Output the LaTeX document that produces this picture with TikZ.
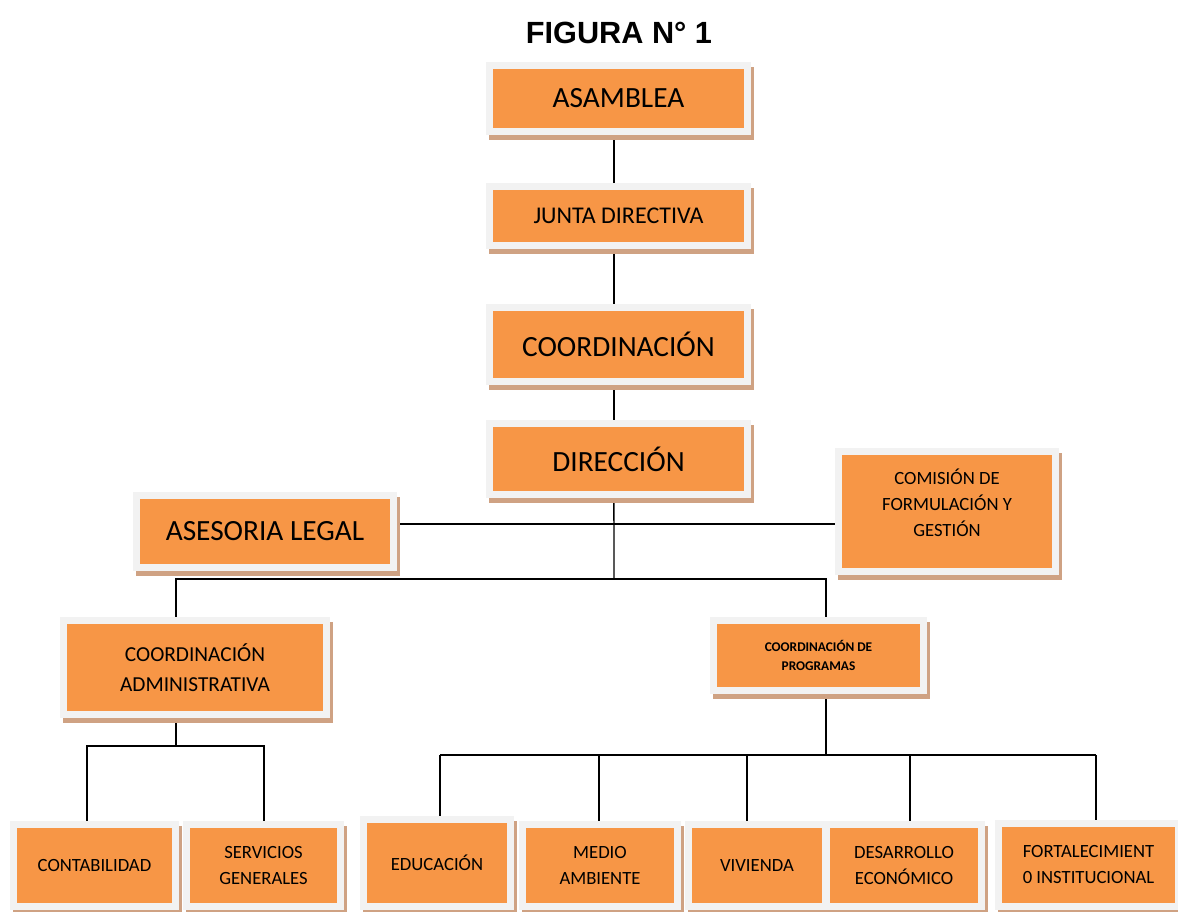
\documentclass[tikz,border=0pt]{standalone}
\usepackage{fontspec}
\setmainfont{Carlito}
\newfontfamily\titlefont{Liberation Sans}
\usetikzlibrary{backgrounds}

\definecolor{boxorange}{HTML}{F79646}
\definecolor{framegray}{HTML}{F2F2F2}
\definecolor{shadowtan}{HTML}{CFA283}

\begin{document}
\begin{tikzpicture}[
    x=0.75pt, y=-0.75pt,
    box/.style={rectangle, fill=boxorange, draw=framegray, line width=5.25pt,
                inner sep=1pt, align=center, text=black,
                preaction={fill=shadowtan, draw=shadowtan, line width=5.25pt,
                           transform canvas={xshift=2.25pt, yshift=-3.75pt}}},
    wh/.style 2 args={minimum width=#1*0.75pt, minimum height=#2*0.75pt},
    big/.style={font=\fontsize{22}{26}\selectfont},
    mid/.style={font=\fontsize{18}{22}\selectfont},
    small/.style={font=\fontsize{14}{19.5}\selectfont},
    link/.style={draw=black, line width=1.1pt}
]
\path[use as bounding box, clip] (0,0) rectangle (1178,912);

\node[font=\titlefont\bfseries\fontsize{23}{27}\selectfont] (title) at (619,33) {FIGURA N° 1};

% main chain
\node[box, big, wh={258}{66}] (asamblea) at (618.5,98.5) {ASAMBLEA};
\node[box, mid, wh={258}{59}] (junta) at (618.5,216) {JUNTA DIRECTIVA};
\node[box, big, wh={258}{74}] (coord) at (618.5,344.5) {COORDINACIÓN};
\node[box, big, wh={258}{71}] (direccion) at (618.5,459) {DIRECCIÓN};
\node[box, big, wh={257}{72}] (asesoria) at (265,531.5) {ASESORIA LEGAL};
\node[box, small, wh={217}{120}] (comision) at (947,511.5) {COMISIÓN DE\\FORMULACIÓN Y\\GESTIÓN\\[-6pt]\mbox{}};

% second level
\node[box, font=\fontsize{16}{22.5}\selectfont, wh={263}{94}] (coordadm) at (195,667.5) {COORDINACIÓN\\ADMINISTRATIVA};
\node[box, font=\bfseries\fontsize{10}{14}\selectfont, wh={210}{70}] (coordprog) at (818.5,655.5) {COORDINACIÓN DE\\PROGRAMAS};

% bottom row
\node[box, small, wh={162}{82}] (contab) at (94.5,865.5) {CONTABILIDAD};
\node[box, small, wh={154}{82}] (servicios) at (263.5,865.5) {SERVICIOS\\GENERALES};
\node[box, small, wh={147}{87}] (educacion) at (437,863) {EDUCACIÓN};
\node[box, small, wh={155}{82}] (medio) at (600,865.5) {MEDIO\\AMBIENTE};
\node[box, small, wh={137}{82}] (vivienda) at (757,865.5) {VIVIENDA};
\node[box, small, wh={155}{82}] (desarrollo) at (904,865.5) {DESARROLLO\\ECONÓMICO};
\node[box, small, wh={180}{83}] (fortalec) at (1088.5,865) {FORTALECIMIENT\\0 INSTITUCIONAL};

\begin{scope}[on background layer]
\draw[link] ([xshift=-3.4pt]asamblea.south) -- ([xshift=-3.4pt]junta.north);
\draw[link] ([xshift=-3.4pt]junta.south) -- ([xshift=-3.4pt]coord.north);
\draw[link] ([xshift=-3.4pt]coord.south) -- ([xshift=-3.4pt]direccion.north);
\coordinate (legal) at (614,524);
\draw[link] (asesoria.east |- legal) -- (comision.west |- legal);
\coordinate (busL) at (176,579);
\coordinate (busM) at (614,579);
\coordinate (busR) at (826,579);
\draw[link] ([xshift=-3.4pt]direccion.south) -- (busM);
\draw[link] (coordadm.north -| busL) -- (busL) -- (busR) -- (coordprog.north -| busR);
\coordinate (admL) at (87,746);
\coordinate (admM) at (176,746);
\coordinate (admR) at (264,746);
\draw[link] (coordadm.south -| admM) -- (admM);
\draw[link] (contab.north -| admL) -- (admL) -- (admR) -- (servicios.north -| admR);
\coordinate (progM) at (826,755);
\draw[link] (coordprog.south -| progM) -- (progM);
\foreach \b/\x in {educacion/440, medio/599, vivienda/747, desarrollo/910, fortalec/1096}
    \coordinate (t\b) at (\x,755);
\draw[link] (teducacion) -- (tfortalec);
\foreach \b in {educacion, medio, vivienda, desarrollo, fortalec}
    \draw[link] (t\b) -- (\b.north -| t\b);
\end{scope}
\end{tikzpicture}
\end{document}
